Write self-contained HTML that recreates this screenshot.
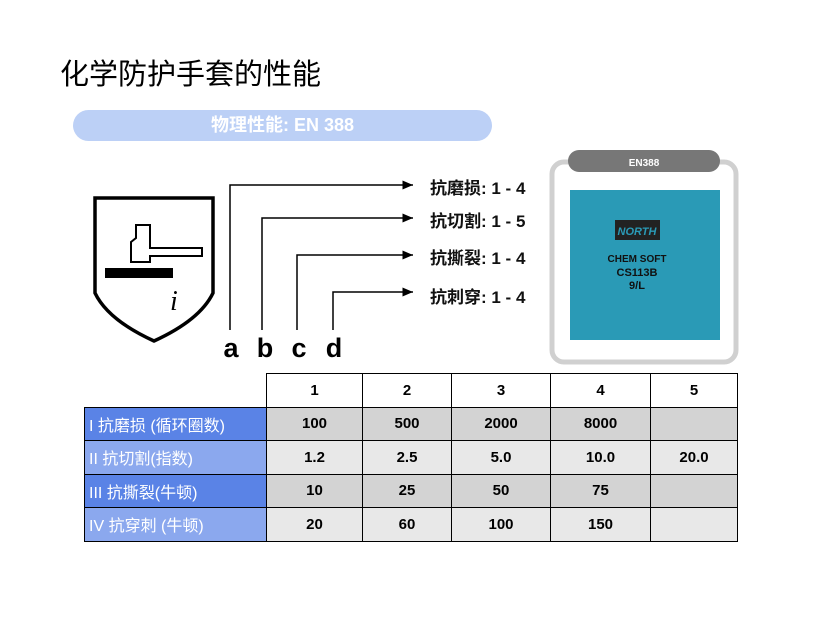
<!DOCTYPE html>
<html><head><meta charset="utf-8"><style>
body{margin:0;width:825px;height:638px;background:#fff;position:relative;overflow:hidden;font-family:"Liberation Sans","Noto Sans CJK SC",sans-serif}
.a{position:absolute}
table{position:absolute;left:84px;top:373px;border-collapse:collapse;font-weight:bold;font-size:15px}
td{border:1px solid #000;text-align:center;padding:0;height:32.5px}
td.h{text-align:left;color:#fff;font-weight:normal;font-size:16px;padding-left:4px;width:177px}
.r1 td{background:#d3d3d3}.r2 td{background:#e8e8e8}
.r1 td.h{background:#5a83e6}.r2 td.h{background:#8ba8ee}
.lab{position:absolute;left:430px;font-size:17px;font-weight:bold;color:#111}
</style></head><body>
<div class="a" style="left:60px;top:51px;font-size:29px;color:#000">化学防护手套的性能</div>
<div class="a" style="left:73px;top:110px;width:419px;height:31px;border-radius:16px;background:#bcd0f6;color:#fff;font-size:18px;font-weight:bold;text-align:center;line-height:31px">物理性能: EN 388</div>
<svg class="a" style="left:0;top:0" width="825" height="638">
<defs><marker id="ar" markerWidth="8" markerHeight="8" refX="7" refY="4" orient="auto"><path d="M0,1 L7,4 L0,7z" fill="#000"/></marker></defs>
<path d="M95,198 L213,198 L213,293 Q200,320 154,341 Q108,320 95,293 Z" fill="#fff" stroke="#000" stroke-width="3.5"/>
<path d="M131,242 L136,238 L136,225 L150,225 L150,248 L202,248 L202,256 L150,256 L150,262 L131,262 Z" fill="#fff" stroke="#000" stroke-width="2"/>
<rect x="105" y="268" width="68" height="10" fill="#000"/>
<text x="170" y="310" font-family="Liberation Serif" font-style="italic" font-size="28" fill="#000">i</text>
<g stroke="#000" stroke-width="1.5" fill="none" marker-end="url(#ar)">
<path d="M230,330 L230,185 L413,185"/>
<path d="M262,330 L262,218 L413,218"/>
<path d="M297,330 L297,255 L413,255"/>
<path d="M333,330 L333,292 L413,292"/>
</g>
<g font-size="27" font-weight="bold" font-family="Liberation Sans" fill="#000" text-anchor="middle">
<text x="231" y="357">a</text><text x="265" y="357">b</text><text x="299" y="357">c</text><text x="334" y="357">d</text></g>
<rect x="552" y="162" width="184" height="200" rx="12" fill="#fff" stroke="#d0d0d0" stroke-width="5"/>
<rect x="568" y="150" width="152" height="22" rx="11" fill="#777"/>
<text x="644" y="166" font-size="10" font-weight="bold" fill="#fff" text-anchor="middle">EN388</text>
<rect x="570" y="190" width="150" height="150" fill="#2a9ab6"/>
<rect x="615" y="220" width="45" height="20" fill="#222"/>
<text x="637" y="235" font-size="11" font-weight="bold" font-style="italic" fill="#2a9ab6" text-anchor="middle">NORTH</text>
<text x="637" y="262" font-size="10" font-weight="bold" fill="#111" text-anchor="middle">CHEM SOFT</text>
<text x="637" y="276" font-size="11" font-weight="bold" fill="#111" text-anchor="middle">CS113B</text>
<text x="637" y="289" font-size="11" font-weight="bold" fill="#111" text-anchor="middle">9/L</text>
</svg>
<div class="lab" style="top:174px">抗磨损: 1 - 4</div>
<div class="lab" style="top:207px">抗切割: 1 - 5</div>
<div class="lab" style="top:244px">抗撕裂: 1 - 4</div>
<div class="lab" style="top:283px">抗刺穿: 1 - 4</div>
<table>
<tr><td style="border:none;border-right:1px solid #000;width:181px"></td><td style="width:95px">1</td><td style="width:88px">2</td><td style="width:98px">3</td><td style="width:99px">4</td><td style="width:86px">5</td></tr>
<tr class="r1"><td class="h">I 抗磨损 (循环圈数)</td><td>100</td><td>500</td><td>2000</td><td>8000</td><td></td></tr>
<tr class="r2"><td class="h">II 抗切割(指数)</td><td>1.2</td><td>2.5</td><td>5.0</td><td>10.0</td><td>20.0</td></tr>
<tr class="r1"><td class="h">III 抗撕裂(牛顿)</td><td>10</td><td>25</td><td>50</td><td>75</td><td></td></tr>
<tr class="r2"><td class="h">IV 抗穿刺 (牛顿)</td><td>20</td><td>60</td><td>100</td><td>150</td><td></td></tr>
</table>
</body></html>
